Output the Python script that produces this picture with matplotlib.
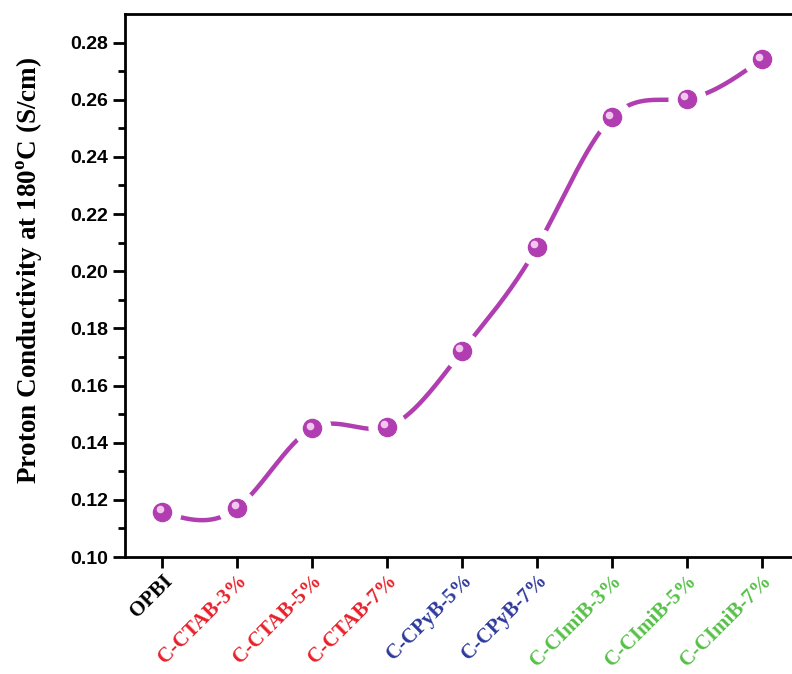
import numpy as np
from matplotlib import pyplot as plt

samples = ['OPBI', 'C-CTAB-3%', 'C-CTAB-5%', 'C-CTAB-7%', 'C-CPyB-5%',
           'C-CPyB-7%', 'C-CImiB-3%', 'C-CImiB-5%', 'C-CImiB-7%']
conductivity = [0.1157, 0.1172, 0.1450, 0.1455, 0.1720,
                0.2084, 0.2538, 0.2603, 0.2741]
label_colors = ['black', '#E8202A', '#E8202A', '#E8202A', '#2E3A9C',
                '#2E3A9C', '#55C046', '#55C046', '#55C046']

purple = '#B13EB1'


def natural_spline(x, y, n=400):
    # plain natural cubic spline, only used to draw the smooth connecting line
    x = np.asarray(x, float)
    y = np.asarray(y, float)
    k = len(x)
    h = np.diff(x)
    A = np.zeros((k, k))
    b = np.zeros(k)
    A[0, 0] = A[-1, -1] = 1
    for i in range(1, k - 1):
        A[i, i - 1] = h[i - 1]
        A[i, i] = 2 * (h[i - 1] + h[i])
        A[i, i + 1] = h[i]
        b[i] = 6 * ((y[i + 1] - y[i]) / h[i] - (y[i] - y[i - 1]) / h[i - 1])
    m = np.linalg.solve(A, b)
    xs = np.linspace(x[0], x[-1], n)
    idx = np.clip(np.searchsorted(x, xs) - 1, 0, k - 2)
    x0, x1 = x[idx], x[idx + 1]
    hh = x1 - x0
    t0, t1 = x1 - xs, xs - x0
    ys = (m[idx] * t0 ** 3 + m[idx + 1] * t1 ** 3) / (6 * hh) \
        + (y[idx] / hh - m[idx] * hh / 6) * t0 \
        + (y[idx + 1] / hh - m[idx + 1] * hh / 6) * t1
    return xs, ys


fig = plt.figure(figsize=(7.92, 6.74), dpi=100)
ax = fig.add_axes([125 / 792, 1 - 557 / 674, 674 / 792, (557 - 14) / 674])

xpos = np.arange(len(samples))
xs, ys = natural_spline(xpos, conductivity)
ax.plot(xs, ys, color=purple, linewidth=3.2, solid_capstyle='round', zorder=2)

# white halo so the line breaks before each ball
ax.scatter(xpos, conductivity, s=700, color='white', zorder=3)
ax.scatter(xpos, conductivity, s=170, color=purple, zorder=4)
ax.scatter(xpos - 0.035, np.array(conductivity) + 0.0010, s=20,
           color='#F2C6EE', zorder=5)

ax.set_xlim(-0.5, 8.5)
ax.set_ylim(0.10, 0.29)
ax.set_yticks(np.arange(0.10, 0.281, 0.02))
ax.set_yticks(np.arange(0.11, 0.29, 0.02), minor=True)
ax.set_yticklabels([f'{v:.2f}' for v in np.arange(0.10, 0.281, 0.02)],
                   fontfamily='Liberation Sans', fontweight='bold', fontsize=14)

ax.set_xticks(xpos)
ax.set_xticklabels(samples, rotation=45, ha='right', rotation_mode='anchor',
                   fontfamily='Liberation Serif', fontweight='bold', fontsize=15)
for lbl, c in zip(ax.get_xticklabels(), label_colors):
    lbl.set_color(c)

ax.tick_params(axis='y', which='major', direction='out', length=9, width=2, pad=3)
ax.tick_params(axis='y', which='minor', direction='out', length=5, width=2)
ax.tick_params(axis='x', which='major', direction='out', length=8, width=2, pad=2)

for side in ['left', 'bottom', 'top']:
    ax.spines[side].set_linewidth(2)
ax.spines['right'].set_visible(False)

ax.set_ylabel('Proton Conductivity at 180$^{\\mathregular{o}}$C (S/cm)',
              fontfamily='Liberation Serif', fontweight='bold', fontsize=19.5)
ax.yaxis.set_label_coords(-0.12, 0.527)

fig.savefig('out.png', dpi=100)
